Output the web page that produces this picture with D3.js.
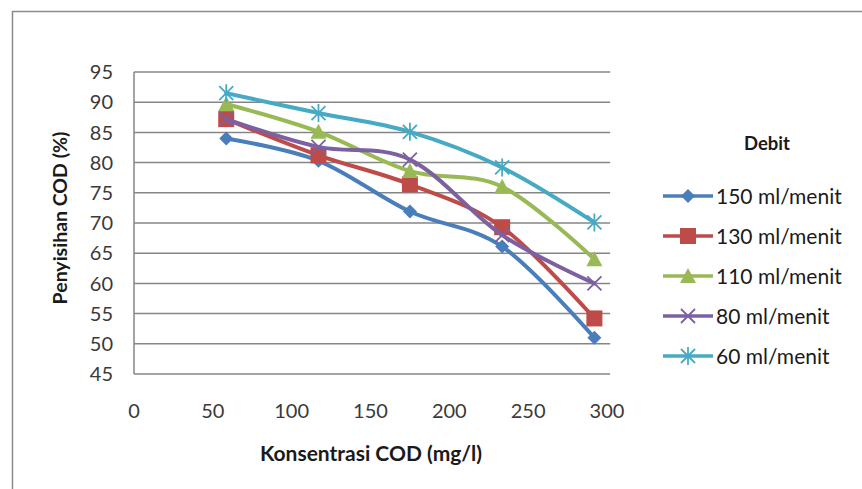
<!DOCTYPE html>
<html><head><meta charset="utf-8">
<script src="https://cdn.jsdelivr.net/npm/d3@7"></script>
<style>body{margin:0;background:#fff}svg{display:block}</style>
</head><body><svg id="c" width="862" height="489"></svg>
<script>
const concentrations = [58.5, 117, 175, 233.5, 292];
const seriesNames = ["150 ml/menit","130 ml/menit","110 ml/menit","80 ml/menit","60 ml/menit"];
const s150 = [84, 80.3, 71.9, 66.1, 51];
const s130 = [87.2, 81.2, 76.4, 69.3, 54.2];
const s110 = [89.7, 85.1, 78.6, 76, 64];
const s80  = [87.2, 82.6, 80.5, 68, 60];
const s60  = [91.5, 88.2, 85.1, 79.2, 70.1];
const yTicks = [45,50,55,60,65,70,75,80,85,90,95];
const xTicks = [0,50,100,150,200,250,300];
const colors = ["#4A7EBB","#BE4B48","#98B954","#7D60A0","#46AAC5"];
const markers = ["diamond","square","triangle","x","star"];
const allSeries = [s150, s130, s110, s80, s60];

const svg = d3.select("#c");
const x = d3.scaleLinear().domain([0,300]).range([134,607]);
const y = d3.scaleLinear().domain([45,95]).range([374,72]);
const font = "Lato, 'Open Sans', sans-serif";

// outer border (chart area)
svg.append("path").attr("d","M12.5,489 L12.5,11.5 L862,11.5").attr("fill","none").attr("stroke","#8c8c8c").attr("stroke-width",1.5);

// gridlines
svg.append("g").selectAll("line").data(yTicks).join("line")
  .attr("x1",x(0)).attr("x2",x(302)).attr("y1",d=>y(d)).attr("y2",d=>y(d))
  .attr("stroke","#868686").attr("stroke-width",1.5);
svg.append("line").attr("x1",x(0)).attr("x2",x(0)).attr("y1",y(95)).attr("y2",y(45))
  .attr("stroke","#868686").attr("stroke-width",1.5);

// y tick labels
svg.append("g").selectAll("text").data(yTicks).join("text")
  .attr("x",113).attr("y",d=>y(d)).attr("dy","0.36em").attr("text-anchor","end")
  .attr("font-family",font).attr("font-size",20).attr("fill","#3a3a3a").text(d=>d);
// x tick labels
svg.append("g").selectAll("text").data(xTicks).join("text")
  .attr("x",d=>x(d)).attr("y",411).attr("dy","0.36em").attr("text-anchor","middle")
  .attr("font-family",font).attr("font-size",20).attr("fill","#3a3a3a").text(d=>d);

// axis titles
svg.append("text").attr("transform","translate(60,218) rotate(-90)").attr("text-anchor","middle")
  .attr("dy","0.36em").attr("font-family",font).attr("font-weight","bold").attr("font-size",19.5)
  .attr("fill","#1a1a1a").text("Penyisihan COD (%)");
svg.append("text").attr("x",371).attr("y",453).attr("text-anchor","middle").attr("dy","0.36em")
  .attr("font-family",font).attr("font-weight","bold").attr("font-size",21)
  .attr("fill","#1a1a1a").text("Konsentrasi COD (mg/l)");

function drawMarker(g, type, color, cx, cy){
  if(type==="diamond"){
    g.append("path").attr("d",`M${cx},${cy-7}L${cx+7},${cy}L${cx},${cy+7}L${cx-7},${cy}Z`).attr("fill",color);
  } else if(type==="square"){
    g.append("rect").attr("x",cx-8).attr("y",cy-8).attr("width",16).attr("height",16).attr("fill",color);
  } else if(type==="triangle"){
    g.append("path").attr("d",`M${cx},${cy-8}L${cx+8},${cy+7}L${cx-8},${cy+7}Z`).attr("fill",color);
  } else if(type==="x"){
    g.append("path").attr("d",`M${cx-7},${cy-7}L${cx+7},${cy+7}M${cx-7},${cy+7}L${cx+7},${cy-7}`)
      .attr("stroke",color).attr("stroke-width",1.8);
  } else if(type==="star"){
    g.append("path").attr("d",`M${cx-7},${cy-7}L${cx+7},${cy+7}M${cx-7},${cy+7}L${cx+7},${cy-7}M${cx},${cy-9}L${cx},${cy+9}`)
      .attr("stroke",color).attr("stroke-width",1.8);
  }
}

const line = d3.line().x(d=>x(d[0])).y(d=>y(d[1])).curve(d3.curveCardinal);
allSeries.forEach((vals,i)=>{
  const pts = concentrations.map((c,j)=>[c,vals[j]]);
  const g = svg.append("g");
  g.append("path").attr("d",line(pts)).attr("fill","none").attr("stroke",colors[i])
    .attr("stroke-width",4).attr("stroke-linejoin","round").attr("stroke-linecap","round");
  pts.forEach(p=>drawMarker(g, markers[i], colors[i], x(p[0]), y(p[1])));
});

// legend
svg.append("text").attr("x",767).attr("y",143).attr("dy","0.36em").attr("text-anchor","middle")
  .attr("font-family",font).attr("font-weight","bold").attr("font-size",18.5).attr("fill","#1a1a1a").text("Debit");
seriesNames.forEach((n,i)=>{
  const ly = 196 + i*40;
  const g = svg.append("g");
  g.append("line").attr("x1",663).attr("x2",713).attr("y1",ly).attr("y2",ly)
    .attr("stroke",colors[i]).attr("stroke-width",3.5);
  drawMarker(g, markers[i], colors[i], 688, ly);
  g.append("text").attr("x",716).attr("y",ly).attr("dy","0.36em")
    .attr("font-family",font).attr("font-size",21).attr("fill","#1a1a1a").text(n);
});
</script></body></html>
